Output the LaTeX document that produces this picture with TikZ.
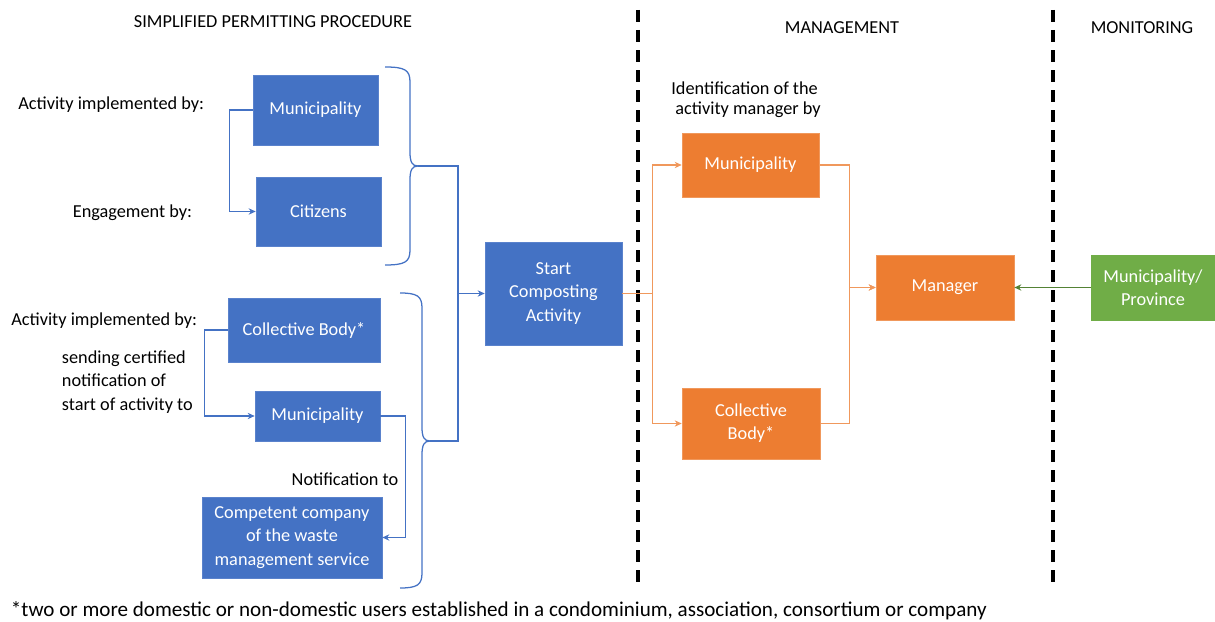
\documentclass[tikz,border=0pt]{standalone}
\usepackage{fontspec}
\setmainfont{Carlito}
\usepackage{tikz}
\usetikzlibrary{positioning}
\usetikzlibrary{arrows.meta}
\definecolor{cblue}{HTML}{4472C4}
\definecolor{cblueline}{HTML}{5A82CC}
\definecolor{corange}{HTML}{ED7D31}
\definecolor{corangeline}{HTML}{F0985C}
\definecolor{cgreen}{HTML}{70AD47}
\definecolor{cgreenline}{HTML}{548235}

\begin{document}
\begin{tikzpicture}[x=0.025cm,y=-0.025cm,font=\fontsize{13}{16.5}\selectfont,>={Stealth[length=5pt,width=4.5pt]}]
\tikzset{bluebox/.style={rectangle, fill=cblue, draw=cblueline, text=white, inner sep=0pt, align=center}}
\tikzset{orangebox/.style={rectangle, fill=corange, draw=corangeline, text=white, inner sep=0pt, align=center}}
\tikzset{greenbox/.style={rectangle, fill=cgreen, draw=cgreen, text=white, inner sep=0pt, align=center}}
\tikzset{bline/.style={draw=cblue, line width=0.9pt}}
\tikzset{oline/.style={draw=corangeline, line width=0.9pt}}
\tikzset{gline/.style={draw=cgreenline, line width=0.9pt}}
\tikzset{divider/.style={draw=black, line width=2.2pt, dash pattern=on 0.3cm off 0.2cm}}
\useasboundingbox (0,0) rectangle (1215,622);
% headings
\node (head1) at (273,22) {SIMPLIFIED PERMITTING PROCEDURE};
\node (head2) at (842,28) {MANAGEMENT};
\node (head3) at (1142,28) {MONITORING};
\draw[divider] (638,10) -- (638,582);
\draw[divider] (1053,10) -- (1053,582);
% permitting boxes
\node[bluebox, minimum width=3.125cm, minimum height=1.75cm] (muni1) at (315.5,110) {Municipality};
\node[bluebox, minimum width=3.125cm, minimum height=1.725cm] (citizens) at (318.5,211.5) {Citizens};
\node[bluebox, minimum width=3.8cm, minimum height=1.6cm] (body1) at (304,330) {Collective Body*};
\node[bluebox, minimum width=3.125cm, minimum height=1.25cm] (muni2) at (317.5,416) {Municipality};
\node[bluebox, minimum width=4.5cm, minimum height=2.025cm] (company) at (292,537.5) {Competent company\\of the waste\\management service};
\node[bluebox, minimum width=3.425cm, minimum height=2.575cm] (start) at (553.5,293.5) {Start\\Composting\\Activity};
% management boxes
\node[orangebox, minimum width=3.425cm, minimum height=1.6cm] (muni3) at (750.5,165) {Municipality};
\node[orangebox, minimum width=3.45cm, minimum height=1.775cm] (body2) at (751,423.5) {Collective\\Body*};
\node[orangebox, minimum width=3.45cm, minimum height=1.625cm] (manager) at (945,287.5) {Manager};
\node[greenbox, minimum width=3.1cm, minimum height=1.625cm] (province) at (1153,287.5) {Municipality/\\Province};
% side labels
\node[anchor=east] (lab1) at (209,105) {Activity implemented by:};
\node[anchor=east] (lab2) at (197,213) {Engagement by:};
\node[anchor=east] (lab3) at (202,321) {Activity implemented by:};
\node[anchor=west, align=left] (lab4) at (57,382) {sending certified\\notification of\\start of activity to};
\node (lab5) at (345,479) {Notification to};
\node[align=left, font=\fontsize{13}{14.5}\selectfont] (lab6) at (746,100) {Identification of the\\\ activity manager by};
\node[anchor=west, font=\fontsize{15}{18}\selectfont] (note) at (6,611) {*two or more domestic or non-domestic users established in a condominium, association, consortium or company};
% braces
\draw[bline] (385,67) .. controls (405,67) and (410,70) .. (410,82) -- (410,152) .. controls (410,162) and (412,166) .. (418,166);
\draw[bline] (385,265) .. controls (405,265) and (410,262) .. (410,250) -- (410,180) .. controls (410,170) and (412,166) .. (418,166);
\draw[bline] (400,293) .. controls (417,293) and (422,296) .. (422,308) -- (422,427) .. controls (422,437) and (424,441) .. (430,441);
\draw[bline] (400,588) .. controls (417,588) and (422,585) .. (422,573) -- (422,455) .. controls (422,445) and (424,441) .. (430,441);
\coordinate (tip1) at (418,166);
\coordinate (tip2) at (430,441);
\coordinate (join) at (458,293.5);
% connectors
\draw[bline,->] (muni1.west) -- ++(-23,0) |- (citizens.west);
\draw[bline,->] (body1.west) -- ++(-23,0) |- (muni2.west);
\draw[bline,->] (muni2.east) -- ++(25,0) |- (company.east);
\draw[bline] (tip1) -| (join);
\draw[bline] (tip2) -| (join);
\draw[bline,->] (join) -- (start.west);
\draw[oline,->] (start.east) -- ++(30,0) |- (muni3.west);
\draw[oline,->] (start.east) -- ++(30,0) |- (body2.west);
\draw[oline,->] (muni3.east) -- ++(30,0) |- (manager.west);
\draw[oline,->] (body2.east) -- ++(29,0) |- (manager.west);
\draw[gline,->] (province.west) -- (manager.east);
\end{tikzpicture}
\end{document}
